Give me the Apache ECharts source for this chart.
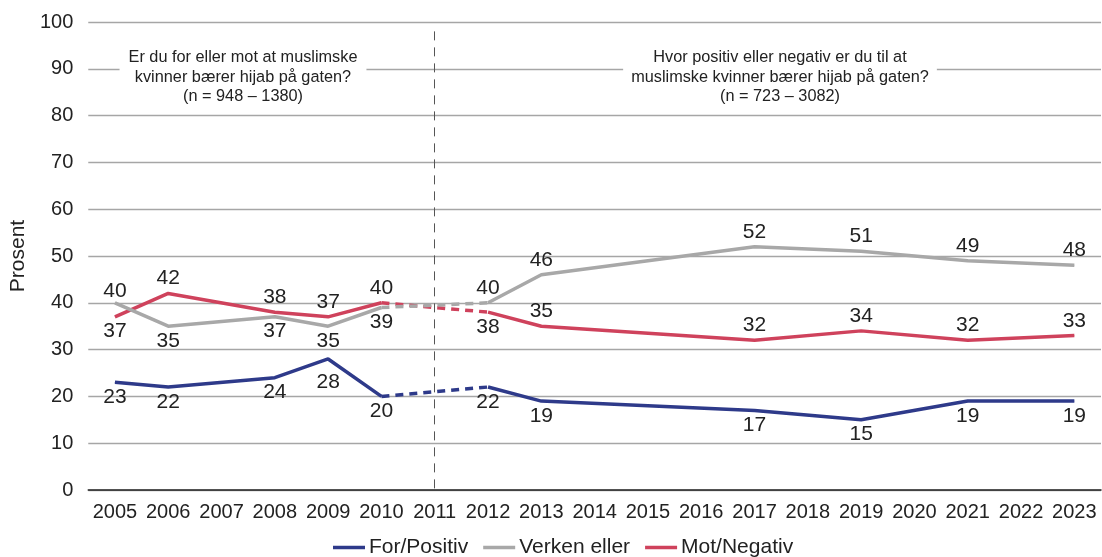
<!DOCTYPE html>
<html>
<head>
<meta charset="utf-8">
<script src="https://cdn.jsdelivr.net/npm/echarts@6/dist/echarts.min.js"></script>
<style>
html,body{margin:0;padding:0;background:#fff;}
#chart{width:1102px;height:557px;}
</style>
</head>
<body>
<div id="chart"></div>
<script>
// ---- data ----
const years = ['2005','2006','2007','2008','2009','2010','2011','2012','2013','2014','2015','2016','2017','2018','2019','2020','2021','2022','2023'];
const surveyYears1 = ['2005','2006','2008','2009','2010'];
const surveyYears2 = ['2012','2013','2017','2019','2021','2023'];
const forPositiv1 = [23, 22, 24, 28, 20];
const forPositiv2 = [22, 19, 17, 15, 19, 19];
const verkenEller1 = [40, 35, 37, 35, 39];
const verkenEller2 = [40, 46, 52, 51, 49, 48];
const motNegativ1 = [37, 42, 38, 37, 40];
const motNegativ2 = [38, 35, 32, 34, 32, 33];
const seriesNames = ['For/Positiv', 'Verken eller', 'Mot/Negativ'];
const yTicks = { min: 0, max: 100, interval: 10 };
const question1 = 'Er du for eller mot at muslimske\nkvinner bærer hijab på gaten?\n(n = 948 – 1380)';
const question2 = 'Hvor positiv eller negativ er du til at\nmuslimske kvinner bærer hijab på gaten?\n(n = 723 – 3082)';

// ---- styles ----
const colors = ['#2e3a8a', '#a8a8a8', '#cf425c'];
const labelPos1 = [
  ['bottom','bottom','bottom','bottom','bottom'],
  ['top','bottom','bottom','bottom','bottom'],
  ['bottom','top','top','top','top']
];
const labelDist1 = [
  [4, 4, 4, 12, 4],
  [1, 4, 4, 4, 4],
  [4, 4, 4, 4, 4]
];
const labelPos2 = [
  ['bottom','bottom','bottom','bottom','bottom','bottom'],
  ['top','top','top','top','top','top'],
  ['bottom','top','top','top','top','top']
];

const part1 = [forPositiv1, verkenEller1, motNegativ1];
const part2 = [forPositiv2, verkenEller2, motNegativ2];
const font = 'Liberation Sans, Arial, sans-serif';

function mk(yrs, vals, pos, dist) {
  return vals.map((v, i) => ({ value: [yrs[i], v], label: { show: true, position: pos[i], distance: dist ? dist[i] : 4 } }));
}

const labelStyle = { show: true, fontSize: 21, color: '#222', fontFamily: font, distance: 4, formatter: p => String(p.value[1]) };

const series = [];
for (let s = 0; s < 3; s++) {
  const ls = { color: colors[s], width: 3.5 };
  const base = {
    name: seriesNames[s], type: 'line', color: colors[s],
    symbol: 'circle', symbolSize: 0.5, showSymbol: true,
    itemStyle: { color: colors[s] },
    z: 5 - s, labelLayout: { hideOverlap: false }
  };
  series.push(Object.assign({}, base, {
    lineStyle: ls, data: mk(surveyYears1, part1[s], labelPos1[s], labelDist1[s]), label: labelStyle
  }));
  series.push(Object.assign({}, base, {
    showSymbol: false,
    lineStyle: { color: colors[s], width: 3.5, type: [8, 6] },
    data: [[surveyYears1[surveyYears1.length - 1], part1[s][part1[s].length - 1]], [surveyYears2[0], part2[s][0]]],
    label: { show: false }
  }));
  series.push(Object.assign({}, base, {
    lineStyle: ls, data: mk(surveyYears2, part2[s], labelPos2[s]), label: labelStyle
  }));
}
series[0].markLine = {
  silent: true, symbol: 'none', label: { show: false },
  lineStyle: { color: '#555', width: 1, type: [9, 7] },
  data: [[{ coord: ['2011', 98] }, { coord: ['2011', 0] }]]
};

const chart = echarts.init(document.getElementById('chart'), null, { renderer: 'canvas' });
chart.setOption({
  animation: false,
  textStyle: { fontFamily: font },
  grid: { left: 87, right: 1, top: 22, bottom: 67 },
  legend: {
    data: seriesNames, bottom: -6, left: 328, icon: 'rect', itemWidth: 32, itemHeight: 3.5,
    itemGap: 15, textStyle: { fontSize: 21, color: '#222', fontFamily: font, padding: [0, 0, 0, -1] }
  },
  xAxis: {
    type: 'category', data: years, boundaryGap: true,
    axisLine: { lineStyle: { color: '#222', width: 1.5 } },
    axisTick: { show: false },
    axisLabel: { fontSize: 20, color: '#222', margin: 12, interval: 0 }
  },
  yAxis: {
    type: 'value', min: yTicks.min, max: yTicks.max, interval: yTicks.interval,
    name: 'Prosent', nameLocation: 'middle', nameGap: 57, nameRotate: 90,
    nameTextStyle: { fontSize: 21, color: '#222' },
    axisLine: { show: false }, axisTick: { show: false },
    axisLabel: { fontSize: 20, color: '#222', margin: 15 },
    splitLine: { lineStyle: { color: '#a6a6a6', width: 1.3 } }
  },
  graphic: [
    { type: 'text', z: 10, x: 243, y: 48, style: { text: question1, font: '16.3px ' + font, fill: '#222', align: 'center', verticalAlign: 'top', lineHeight: 19.5, backgroundColor: '#fff', padding: [0, 9] } },
    { type: 'text', z: 10, x: 780, y: 48, style: { text: question2, font: '16.3px ' + font, fill: '#222', align: 'center', verticalAlign: 'top', lineHeight: 19.5, backgroundColor: '#fff', padding: [0, 8] } }
  ],
  series: series
});
</script>
</body>
</html>
